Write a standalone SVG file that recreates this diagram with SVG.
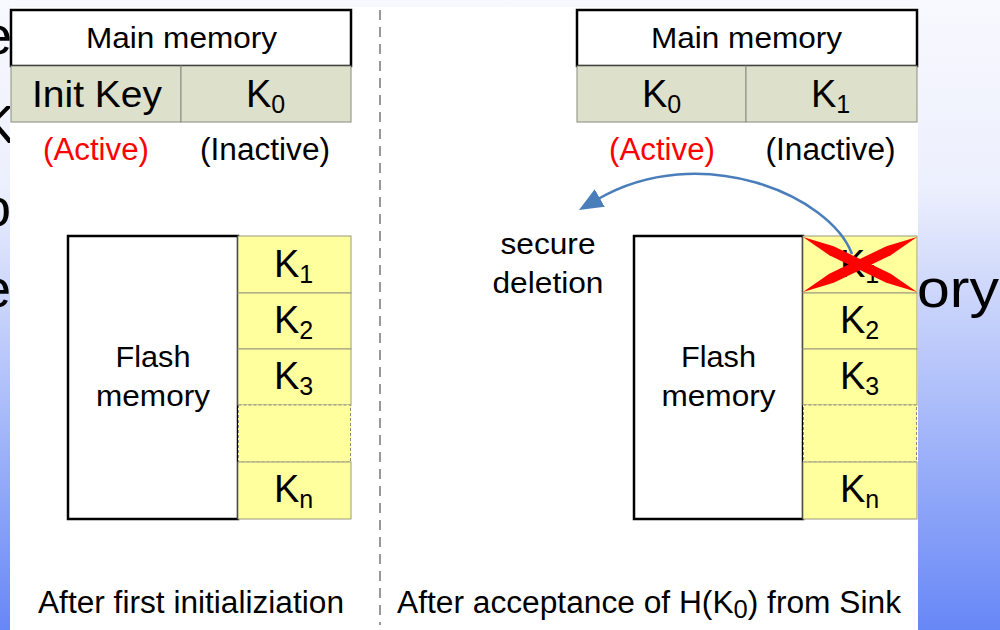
<svg xmlns="http://www.w3.org/2000/svg" width="1000" height="630" viewBox="0 0 1000 630">
<defs>
<linearGradient id="bg" x1="0" y1="0" x2="0" y2="1">
<stop offset="0" stop-color="#f8f9fe"/>
<stop offset="0.3" stop-color="#eceffd"/>
<stop offset="1" stop-color="#6787f6"/>
</linearGradient>
<marker id="ah" markerUnits="userSpaceOnUse" viewBox="0 0 24 20" refX="2" refY="10" markerWidth="24" markerHeight="20" orient="auto">
<path d="M0,0 L24,10 L0,20 z" fill="#4a7ebb"/>
</marker>
<style>
text{font-family:"Liberation Sans",Arial,sans-serif;fill:#000}
.bgt{font-size:54px}
.t28{font-size:30px}
.t29{font-size:31px}
.k{font-size:38px}
.sub{font-size:25px}
.mid{text-anchor:middle}
.red{fill:#ff0000}
.mm{fill:#fff;stroke:#000;stroke-width:2.5}
.row{fill:#dde0cb;stroke:#8a8a80;stroke-width:1}
.flash{fill:#fff;stroke:#000;stroke-width:2.5}
.cell{fill:#ffff9e;stroke:#9a9a80;stroke-width:1}
.dash{fill:none;stroke:#8a8a80;stroke-width:1;stroke-dasharray:3,2}
</style>
</defs>
<rect x="0" y="0" width="1000" height="630" fill="url(#bg)"/>
<g id="background-text">
<text class="bgt" x="12" y="54" text-anchor="end">e</text>
<text class="bgt" x="15" y="143" text-anchor="end">K</text>
<text class="bgt" x="11" y="226" text-anchor="end">o</text>
<text class="bgt" x="11" y="307" text-anchor="end">e</text>
<text class="bgt" x="999" y="307" text-anchor="end" textLength="82" lengthAdjust="spacingAndGlyphs">ory</text>
</g>
<rect x="10" y="7" width="908" height="623" fill="#fff"/>
<g id="divider">
<line x1="380" y1="10" x2="380" y2="625" stroke="#777" stroke-width="1.5" stroke-dasharray="10,7"/>
</g>
<g id="left-main-memory">
<rect class="mm" x="11" y="10" width="340" height="56"/>
<text class="t28 mid" x="181.5" y="48" textLength="191" lengthAdjust="spacingAndGlyphs">Main memory</text>
</g>
<g id="left-init-key">
<rect class="row" x="11" y="66" width="170" height="56"/>
<text class="mid" style="font-size:36px" x="97" y="107" textLength="130" lengthAdjust="spacingAndGlyphs">Init Key</text>
<text class="t29 mid red" x="96" y="160" textLength="106" lengthAdjust="spacingAndGlyphs">(Active)</text>
</g>
<g id="left-k0">
<rect class="row" x="181" y="66" width="170" height="56"/>
<text class="k" x="246" y="107">K<tspan class="sub" dy="6">0</tspan></text>
<text class="t29 mid" x="265" y="160" textLength="130" lengthAdjust="spacingAndGlyphs">(Inactive)</text>
</g>
<g id="left-flash">
<rect class="flash" x="68" y="236" width="170" height="283"/>
<text class="t28 mid" x="153" y="367" textLength="75" lengthAdjust="spacingAndGlyphs">Flash</text>
<text class="t28 mid" x="153" y="406" textLength="114" lengthAdjust="spacingAndGlyphs">memory</text>
</g>
<g id="left-keys">
<rect class="cell" x="238" y="236" width="113" height="57"/>
<text class="k" x="274" y="277">K<tspan class="sub" dy="6">1</tspan></text>
<rect class="cell" x="238" y="293" width="113" height="56"/>
<text class="k" x="274" y="333">K<tspan class="sub" dy="6">2</tspan></text>
<rect class="cell" x="238" y="349" width="113" height="56"/>
<text class="k" x="274" y="389">K<tspan class="sub" dy="6">3</tspan></text>
<rect x="238" y="405" width="113" height="57" fill="#ffff9e"/>
<rect class="dash" x="238.5" y="405" width="112" height="57"/>
<rect class="cell" x="238" y="462" width="113" height="57"/>
<text class="k" x="274" y="502">K<tspan class="sub" dy="6">n</tspan></text>
</g>
<g id="left-caption">
<text class="t29" x="38" y="613" textLength="306" lengthAdjust="spacingAndGlyphs">After first initializiation</text>
</g>
<g id="right-main-memory">
<rect class="mm" x="577" y="10" width="340" height="56"/>
<text class="t28 mid" x="746.5" y="48" textLength="191" lengthAdjust="spacingAndGlyphs">Main memory</text>
</g>
<g id="right-k0">
<rect class="row" x="577" y="66" width="169" height="56"/>
<text class="k" x="642" y="107">K<tspan class="sub" dy="6">0</tspan></text>
<text class="t29 mid red" x="662" y="160" textLength="106" lengthAdjust="spacingAndGlyphs">(Active)</text>
</g>
<g id="right-k1">
<rect class="row" x="746" y="66" width="171" height="56"/>
<text class="k" x="811" y="107">K<tspan class="sub" dy="6">1</tspan></text>
<text class="t29 mid" x="830.5" y="160" textLength="130" lengthAdjust="spacingAndGlyphs">(Inactive)</text>
</g>
<g id="right-flash">
<rect class="flash" x="634" y="236" width="169" height="283"/>
<text class="t28 mid" x="718.5" y="367" textLength="75" lengthAdjust="spacingAndGlyphs">Flash</text>
<text class="t28 mid" x="718.5" y="406" textLength="114" lengthAdjust="spacingAndGlyphs">memory</text>
</g>
<g id="right-keys">
<rect class="cell" x="803" y="236" width="114" height="57"/>
<text class="k" x="840" y="277">K<tspan class="sub" dy="6">1</tspan></text>
<rect class="cell" x="803" y="293" width="114" height="56"/>
<text class="k" x="840" y="333">K<tspan class="sub" dy="6">2</tspan></text>
<rect class="cell" x="803" y="349" width="114" height="56"/>
<text class="k" x="840" y="389">K<tspan class="sub" dy="6">3</tspan></text>
<rect x="803" y="405" width="114" height="57" fill="#ffff9e"/>
<rect class="dash" x="803.5" y="405" width="113" height="57"/>
<rect class="cell" x="803" y="462" width="114" height="57"/>
<text class="k" x="840" y="502">K<tspan class="sub" dy="6">n</tspan></text>
</g>
<g id="delete-cross">
<polygon points="803,237 833.7,246.25 890.7,273.75 917,292 886.3,282.75 829.3,255.25" fill="#ff0000"/>
<polygon points="803,292 829.3,273.75 886.3,246.25 917,237 890.7,255.25 833.7,282.75" fill="#ff0000"/>
</g>
<g id="secure-deletion">
<text class="t28 mid" x="548" y="254" textLength="95" lengthAdjust="spacingAndGlyphs">secure</text>
<text class="t28 mid" x="548" y="293" textLength="111" lengthAdjust="spacingAndGlyphs">deletion</text>
</g>
<g id="connectors">
<path d="M852,254 C830,195 700,140 598,199" fill="none" stroke="#4a7ebb" stroke-width="2.5" marker-end="url(#ah)"/>
</g>
<g id="right-caption">
<text class="t29" x="397" y="613" textLength="504" lengthAdjust="spacingAndGlyphs">After acceptance of H(K<tspan class="sub" dy="5">0</tspan><tspan dy="-5">) from Sink</tspan></text>
</g>
</svg>
